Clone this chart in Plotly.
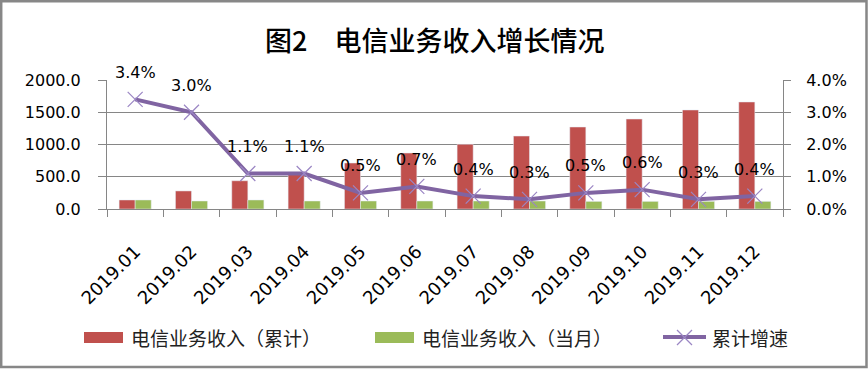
import plotly.graph_objects as go

months = ["2019.01", "2019.02", "2019.03", "2019.04", "2019.05", "2019.06",
          "2019.07", "2019.08", "2019.09", "2019.10", "2019.11", "2019.12"]
cumulative = [140, 280, 438, 574, 713, 868, 1003, 1131, 1271, 1395, 1535, 1659]
monthly = [140, 124, 140, 124, 124, 124, 124, 124, 118, 118, 118, 118]
growth = [3.4, 3.0, 1.1, 1.1, 0.5, 0.7, 0.4, 0.3, 0.5, 0.6, 0.3, 0.4]

name_cum = "电信业务收入（累计）"
name_mon = "电信业务收入（当月）"
name_growth = "累计增速"
title_text = "图2　电信业务收入增长情况"

idx = list(range(len(months)))

W, H = 868, 369
L, R, T, B = 107, 85, 80, 160
PW, PH = W - L - R, H - T - B

def px(x):
    return (x - L) / PW

def py(y):
    return (H - B - y) / PH

RED = "#C0504D"
GREEN = "#9BBB59"
PURPLE = "#8064A2"
MARK = "#9B86C4"
GRID = "#868686"
FONT = "DejaVu Sans"
CJK = "Noto Sans CJK SC"

fig = go.Figure()
fig.add_trace(go.Bar(x=idx, y=cumulative, name=name_cum, marker_color=RED))
fig.add_trace(go.Bar(x=idx, y=monthly, name=name_mon, marker_color=GREEN))
fig.add_trace(go.Scatter(x=idx, y=growth, name=name_growth, yaxis="y2",
                         mode="lines+markers",
                         line=dict(color=PURPLE, width=4),
                         marker=dict(symbol="x-thin", size=15,
                                     line=dict(width=1.2, color=MARK))))

annotations = []
for i, g in zip(idx, growth):
    annotations.append(dict(x=i, y=g, xref="x", yref="y2", text=f"{g:.1f}%",
                            showarrow=False, yshift=27,
                            font=dict(family=FONT, size=16, color="#000000")))

# Title
annotations.append(dict(x=px(434), y=py(40), xref="paper", yref="paper",
                        text=title_text, showarrow=False,
                        xanchor="center", yanchor="middle",
                        font=dict(family=CJK, size=27, color="#000000",
                                  weight=500)))

# Manual legend
leg_y = 337
shapes = []
shapes.append(dict(type="rect", xref="paper", yref="paper",
                   x0=px(84), x1=px(123), y0=py(343), y1=py(332),
                   fillcolor=RED, line=dict(width=0)))
shapes.append(dict(type="rect", xref="paper", yref="paper",
                   x0=px(375), x1=px(414), y0=py(343), y1=py(332),
                   fillcolor=GREEN, line=dict(width=0)))
shapes.append(dict(type="line", xref="paper", yref="paper",
                   x0=px(663), x1=px(706), y0=py(leg_y), y1=py(leg_y),
                   line=dict(color=PURPLE, width=4)))
shapes.append(dict(type="line", xref="paper", yref="paper",
                   x0=px(677), x1=px(692), y0=py(330), y1=py(345),
                   line=dict(color=MARK, width=1.2)))
shapes.append(dict(type="line", xref="paper", yref="paper",
                   x0=px(677), x1=px(692), y0=py(345), y1=py(330),
                   line=dict(color=MARK, width=1.2)))
for xx, txt in [(129, name_cum), (420, name_mon), (710, name_growth)]:
    annotations.append(dict(x=px(xx), y=py(leg_y), xref="paper", yref="paper",
                            text=txt, showarrow=False, xanchor="left",
                            yanchor="middle",
                            font=dict(family=CJK, size=19, color="#222222")))

# Outer border
shapes.append(dict(type="rect", xref="paper", yref="paper",
                   x0=px(1.2), x1=px(866.5), y0=py(367), y1=py(1.2),
                   line=dict(color="#878787", width=2.5), fillcolor="rgba(0,0,0,0)"))

fig.update_layout(
    width=W, height=H,
    margin=dict(l=L, r=R, t=T, b=B, pad=0),
    paper_bgcolor="white", plot_bgcolor="white",
    barmode="group", bargap=0.43, bargroupgap=0,
    showlegend=False,
    annotations=annotations, shapes=shapes,
    font=dict(family=FONT, size=16, color="#000000"),
    xaxis=dict(range=[-0.5, len(months) - 0.5], tickmode="array",
               tickvals=idx, ticktext=months, tickangle=-45,
               ticks="", showline=True, linecolor=GRID, linewidth=1,
               showgrid=False, zeroline=False,
               minor=dict(tick0=-0.5, dtick=1, ticks="outside", ticklen=7,
                          tickcolor=GRID, showgrid=False),
               tickfont=dict(family=FONT, size=18), ticklabelstandoff=24),
    yaxis=dict(range=[0, 2000], dtick=500, tickformat=".1f", ticks="outside",
               ticklen=8, tickcolor=GRID, showline=True, linecolor=GRID,
               showgrid=True, gridcolor=GRID, gridwidth=1, zeroline=False,
               tickfont=dict(family=FONT, size=16), ticklabelstandoff=14),
    yaxis2=dict(range=[0, 4], dtick=1, tickformat=".1f", ticksuffix="%",
                overlaying="y", side="right", ticks="outside", ticklen=7,
                tickcolor=GRID, showline=True, linecolor=GRID, showgrid=False,
                zeroline=False, tickfont=dict(family=FONT, size=16),
                ticklabelstandoff=12),
)

fig.write_html("out.html", config={"displayModeBar": False},
               post_script="document.body.style.margin='0';"
                           "document.body.style.overflow='hidden';")
